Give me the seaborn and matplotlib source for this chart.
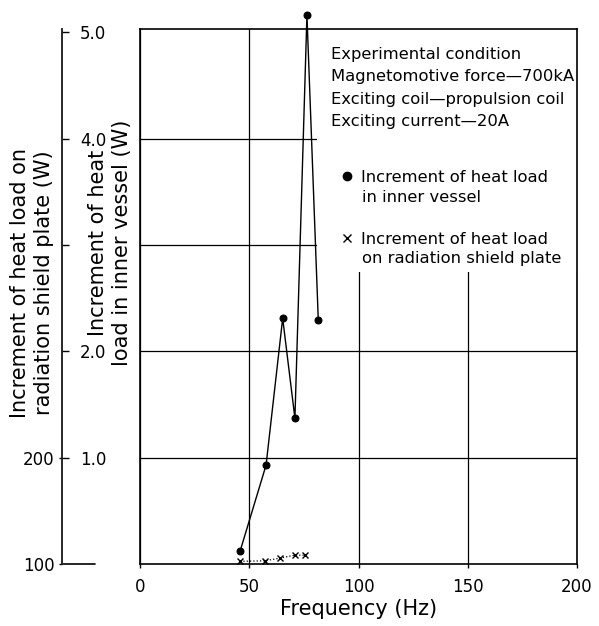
"""Heat load increment vs. excitation frequency (inner vessel and radiation shield)."""

import matplotlib
matplotlib.use("Agg")
import matplotlib.pyplot as plt
from matplotlib.lines import Line2D
from matplotlib.patches import Rectangle
import seaborn as sns

# data
freq_inner = [45.8, 57.7, 65.3, 70.9, 76.4, 81.6]
heat_inner = [0.12, 0.93, 2.31, 1.37, 5.16, 2.29]

freq_shield = [45.8, 57.2, 64.2, 70.8, 75.5]
heat_shield = [102.5, 103.0, 105.6, 108.3, 108.3]

freq_ticks = [0, 50, 100, 150, 200]
grid_ticks = [1.0, 2.0, 3.0, 4.0]
inner_ticks = [1.0, 2.0, 3.0, 4.0, 5.0]
inner_tick_labels = ['1.0', '2.0', '', '4.0', '5.0']
shield_ticks = [100, 200]
shield_tick_labels = ['100', '200']

condition_text = ("Experimental condition\n"
                  "Magnetomotive force\u2014700kA\n"
                  "Exciting coil\u2014propulsion coil\n"
                  "Exciting current\u201420A")
legend_labels = ["Increment of heat load", "Increment of heat load"]
legend_second_lines = ["in inner vessel", "on radiation shield plate"]

sns.set_style("white")
plt.rcParams['font.family'] = ['DejaVu Sans']
plt.rcParams['text.color'] = 'black'
plt.rcParams['axes.labelcolor'] = 'black'
plt.rcParams['xtick.color'] = 'black'
plt.rcParams['ytick.color'] = 'black'

W, H = 599, 626
fig = plt.figure(figsize=(W / 100, H / 100), dpi=100)
ax = fig.add_axes([140 / W, 62 / H, 437 / W, 535 / H])

outer_pos = -78 / 437  # outer spine position in axes fraction

# main frame
ax.set_xlim(0, 200)
ax.set_ylim(0, 5.03)
ax.set_xticks(freq_ticks)
ax.set_yticks(grid_ticks)
ax.set_yticklabels([])
ax.tick_params(axis='y', length=0)
ax.tick_params(axis='x', direction='out', length=3, width=1, labelsize=12, pad=7,
               bottom=True)
ax.grid(True, color='black', linewidth=0.9)
ax.set_axisbelow(True)
for s in ax.spines.values():
    s.set_color('black')
    s.set_linewidth(1.2)

# white block behind the annotation (gridlines are interrupted there)
ax.add_patch(Rectangle((0.405, 0.546), 0.595, 0.454, transform=ax.transAxes,
                       facecolor='white', edgecolor='none', zorder=1))

sns.lineplot(x=freq_inner, y=heat_inner, ax=ax, color='black', linewidth=1,
             marker='o', markersize=5, markeredgecolor='black', clip_on=False,
             zorder=3)

ax.set_xlabel('Frequency (Hz)', fontsize=15, labelpad=2)
ax.set_ylabel('')

# inner-vessel scale drawn on the outer spine (labels to the right of it)
ax2 = ax.twinx()
ax2.set_ylim(ax.get_ylim())
for s in ['top', 'bottom', 'left']:
    ax2.spines[s].set_visible(False)
ax2.spines['right'].set_position(('axes', outer_pos))
ax2.spines['right'].set_linewidth(1.2)
ax2.set_yticks(inner_ticks)
ax2.set_yticklabels(inner_tick_labels)
ax2.tick_params(axis='y', direction='out', length=5, width=1, labelsize=12, pad=8)

# radiation shield scale (labels to the left of the outer spine)
ax3 = ax.twinx()
ax3.set_ylim(100, 100 + 100 * 5.03)
for s in ['top', 'bottom', 'right']:
    ax3.spines[s].set_visible(False)
ax3.spines['left'].set_visible(True)
ax3.spines['left'].set_position(('axes', outer_pos))
ax3.spines['left'].set_linewidth(1.2)
ax3.yaxis.set_ticks_position('left')
ax3.set_yticks(shield_ticks)
ax3.set_yticklabels(shield_tick_labels)
ax3.tick_params(axis='y', direction='out', length=2.5, width=1, labelsize=12, pad=3)

sns.lineplot(x=freq_shield, y=heat_shield, ax=ax3, color='black', linewidth=0.9,
             linestyle=':', marker='x', markersize=5, markeredgewidth=1,
             markeredgecolor='black')
ax3.set_ylabel('')

# short base line under the outer spine
ax.add_line(Line2D([outer_pos, -45 / 437], [0, 0], transform=ax.transAxes,
                   color='black', linewidth=1.2, clip_on=False))

# axis titles
ax.text(-0.246, 0.525, "Increment of heat load on\nradiation shield plate (W)",
        rotation=90, ha='center', va='center', transform=ax.transAxes,
        fontsize=15, linespacing=1.25)
ax.text(-0.095, 0.60, "Increment of heat", rotation=90, ha='center', va='center',
        transform=ax.transAxes, fontsize=15)
ax.text(-0.042, 0.60, "load in inner vessel (W)", rotation=90, ha='center',
        va='center', transform=ax.transAxes, fontsize=15)

# annotation + legend
ax.text((331 - 140) / 437, (564 - 47) / 535, condition_text, transform=ax.transAxes,
        ha='left', va='top', fontsize=11.8, linespacing=1.62, zorder=4)

handles = [Line2D([], [], color='black', marker='o', linestyle='none', markersize=6),
           Line2D([], [], color='black', marker='x', linestyle='none', markersize=6)]
ax.legend(handles, legend_labels, loc='upper left',
          bbox_to_anchor=((341 - 140) / 437, (564 - 170) / 535),
          frameon=False, fontsize=11.8, handlelength=0.7, handletextpad=0.55,
          labelspacing=2.88, borderpad=0, borderaxespad=0)
for label_y, line2 in zip([197, 258], legend_second_lines):
    ax.text((362 - 140) / 437, (564 - label_y) / 535, line2, transform=ax.transAxes,
            ha='left', va='center', fontsize=11.8, zorder=4)

fig.savefig('out.png', dpi=100)
